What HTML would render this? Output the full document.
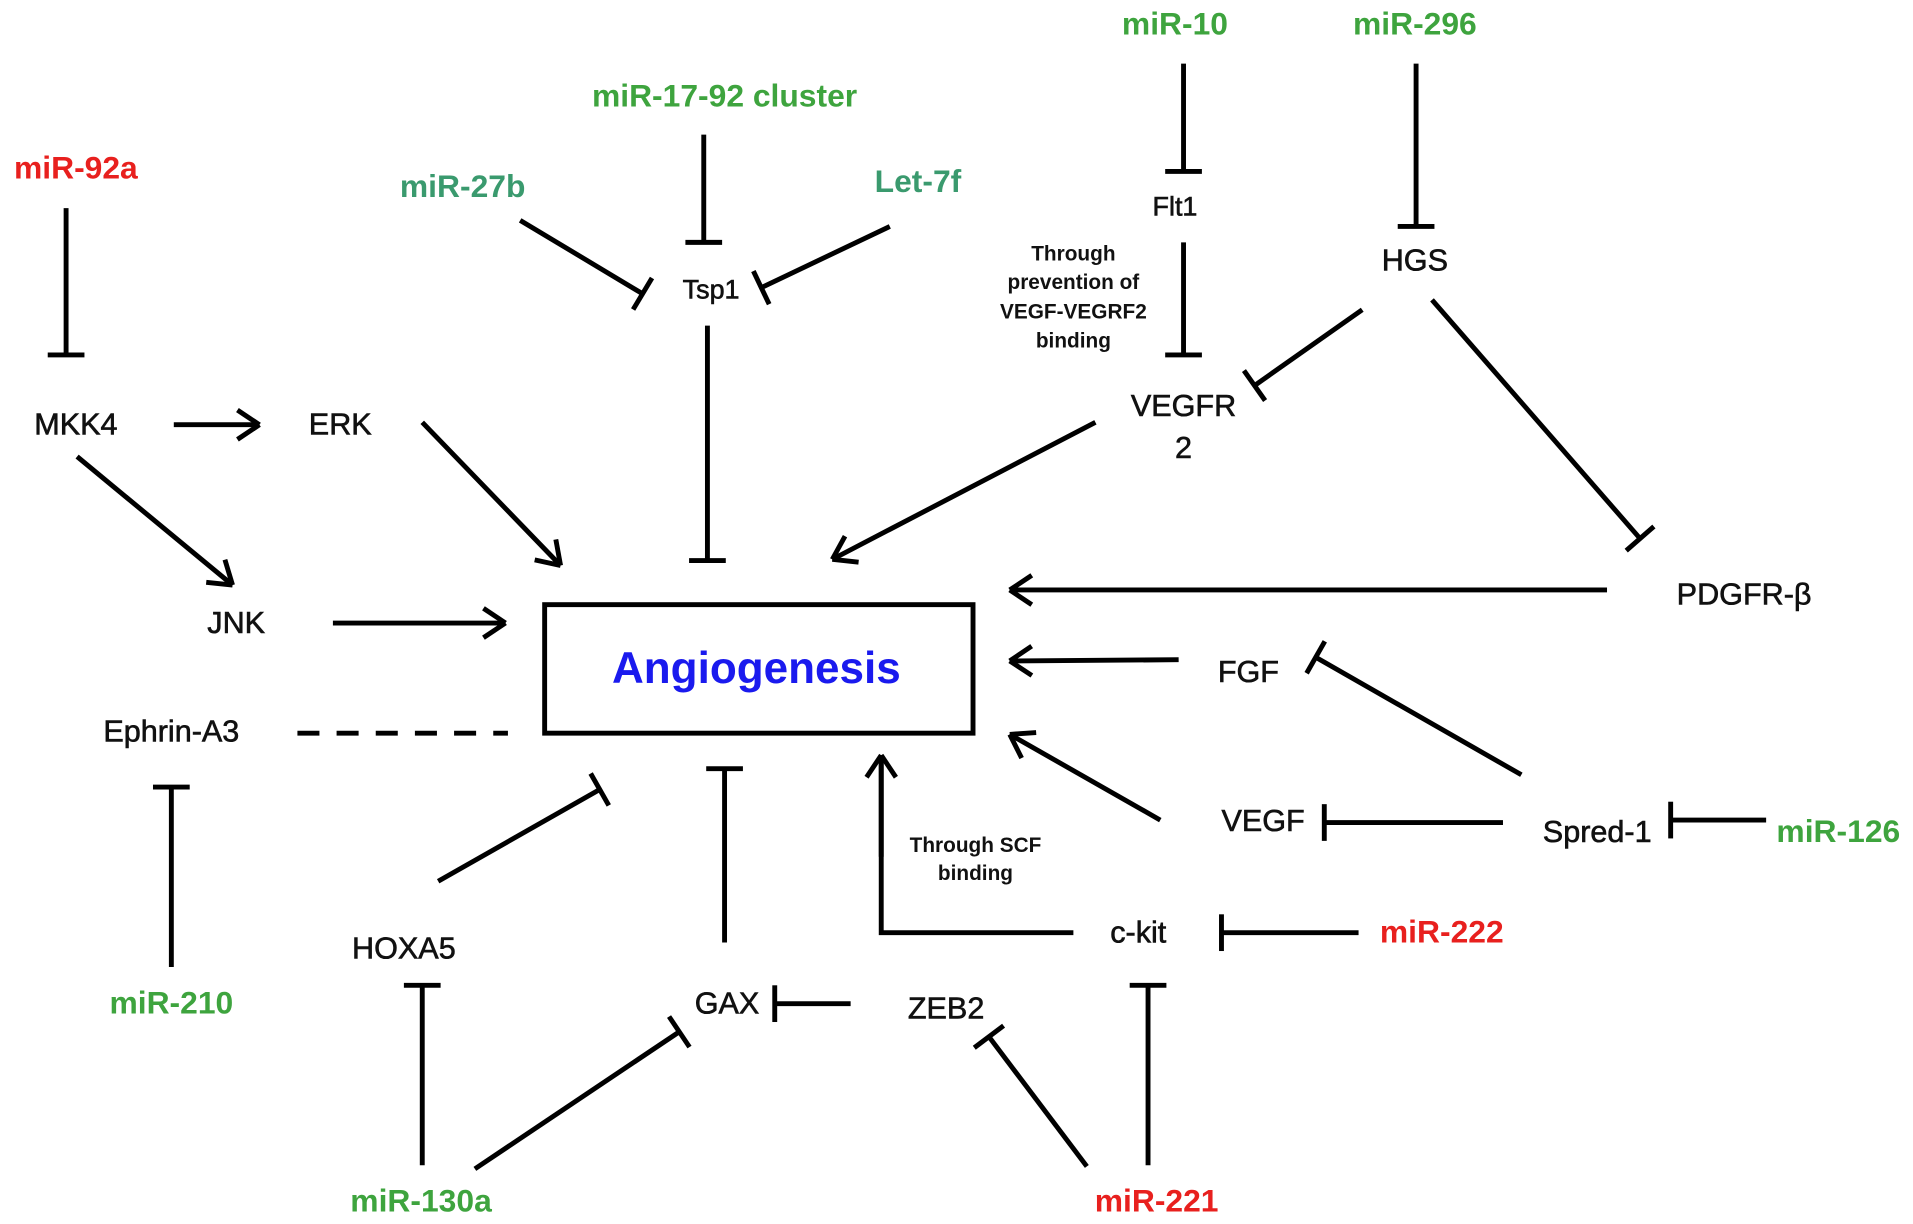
<!DOCTYPE html>
<html><head><meta charset="utf-8"><style>
html,body{margin:0;padding:0;background:#fff;}
svg{display:block;}
text{font-family:"Liberation Sans",Arial,sans-serif;}
</style></head><body>
<svg id="s" width="1913" height="1224" viewBox="0 0 1563 1000" xmlns="http://www.w3.org/2000/svg">
<rect x="0" y="0" width="1563" height="1000" fill="#fff"/>
<rect x="445" y="494" width="350" height="105" fill="none" stroke="#000" stroke-width="4"/>
<line x1="243" y1="599" x2="415" y2="599" stroke="#000" stroke-width="4" stroke-dasharray="18,14"/>
<polyline points="877,762 720,762 720,620" fill="none" stroke="#000" stroke-width="4"/>
<g id="g" stroke="#000" stroke-width="4" fill="none" stroke-linecap="butt"></g>
<g font-size="25" text-anchor="middle" fill="#111" stroke="#111" stroke-width="0.5">
<text x="618" y="558" font-size="36" font-weight="bold" fill="#1a1aee" stroke="none">Angiogenesis</text>
<text x="62" y="355">MKK4</text>
<text x="278" y="355">ERK</text>
<text x="193" y="517">JNK</text>
<text x="140" y="606">Ephrin-A3</text>
<text x="581" y="244" font-size="22">Tsp1</text>
<text x="960" y="176" font-size="22">Flt1</text>
<text x="1156" y="221">HGS</text>
<text x="967" y="340">VEGFR</text>
<text x="967" y="374">2</text>
<text x="1425" y="494">PDGFR-β</text>
<text x="1020" y="557">FGF</text>
<text x="1032" y="679">VEGF</text>
<text x="1305" y="688">Spred-1</text>
<text x="930" y="770">c-kit</text>
<text x="773" y="832">ZEB2</text>
<text x="594" y="828">GAX</text>
<text x="330" y="783">HOXA5</text>
</g>
<g font-size="17" font-weight="bold" text-anchor="middle" fill="#111">
<text x="877" y="213">Through</text>
<text x="877" y="236">prevention  of</text>
<text x="877" y="260">VEGF-VEGRF2</text>
<text x="877" y="284">binding</text>
<text x="797" y="696">Through SCF</text>
<text x="797" y="719">binding</text>
</g>
<g font-size="26" font-weight="bold" text-anchor="middle">
<text x="62" y="146" fill="#e8201e">miR-92a</text>
<text x="592" y="87" fill="#3ea43e">miR-17-92 cluster</text>
<text x="378" y="161" fill="#3a9a6e">miR-27b</text>
<text x="750" y="157" fill="#3a9a6e">Let-7f</text>
<text x="960" y="28" fill="#3ea43e">miR-10</text>
<text x="1156" y="28" fill="#3ea43e">miR-296</text>
<text x="1502" y="688" fill="#3ea43e">miR-126</text>
<text x="1178" y="770" fill="#e8201e">miR-222</text>
<text x="945" y="990" fill="#e8201e">miR-221</text>
<text x="344" y="990" fill="#3ea43e">miR-130a</text>
<text x="140" y="828" fill="#3ea43e">miR-210</text>
</g>
<script>
var g=document.getElementById('g'),NS='http://www.w3.org/2000/svg';
function L(a,b,c,d){var l=document.createElementNS(NS,'line');l.setAttribute('x1',a);l.setAttribute('y1',b);l.setAttribute('x2',c);l.setAttribute('y2',d);g.appendChild(l);}
function T(a,b,c,d){L(a,b,c,d);var dx=c-a,dy=d-b,n=Math.hypot(dx,dy),px=-dy/n*15,py=dx/n*15;L(c+px,d+py,c-px,d-py);}
function A(a,b,c,d){L(a,b,c,d);var dx=(c-a),dy=(d-b),n=Math.hypot(dx,dy);dx/=n;dy/=n;var s=18,w=12;
L(c,d,c-dx*s-dy*w,d-dy*s+dx*w);L(c,d,c-dx*s+dy*w,d-dy*s-dx*w);}
T(54,170,54,290);A(142,347,212,347);A(345,345,458,462);A(63,373,190,478);A(272,509,413,509);
T(140,790,140,643);T(575,110,575,198);T(425,180,525,240);T(727,185,622,235);T(578,266,578,458);
T(967,52,967,140);T(967,198,967,290);T(1157,52,1157,185);T(1113,253,1025,315);T(1170,245,1340,440);
A(895,345,680,457);A(1313,482,825,482);A(963,539,825,540);T(1243,633,1075,537);A(948,670,825,600);
T(1228,672,1082,672);T(1443,670,1365,670);A(720,700,720,617);T(1110,762,998,762);
T(938,952,938,805);T(888,953,808,847);T(695,820,633,820);T(592,770,592,628);T(358,720,490,645);
T(345,952,345,805);T(388,955,555,843);
</script>
</svg>
</body></html>
